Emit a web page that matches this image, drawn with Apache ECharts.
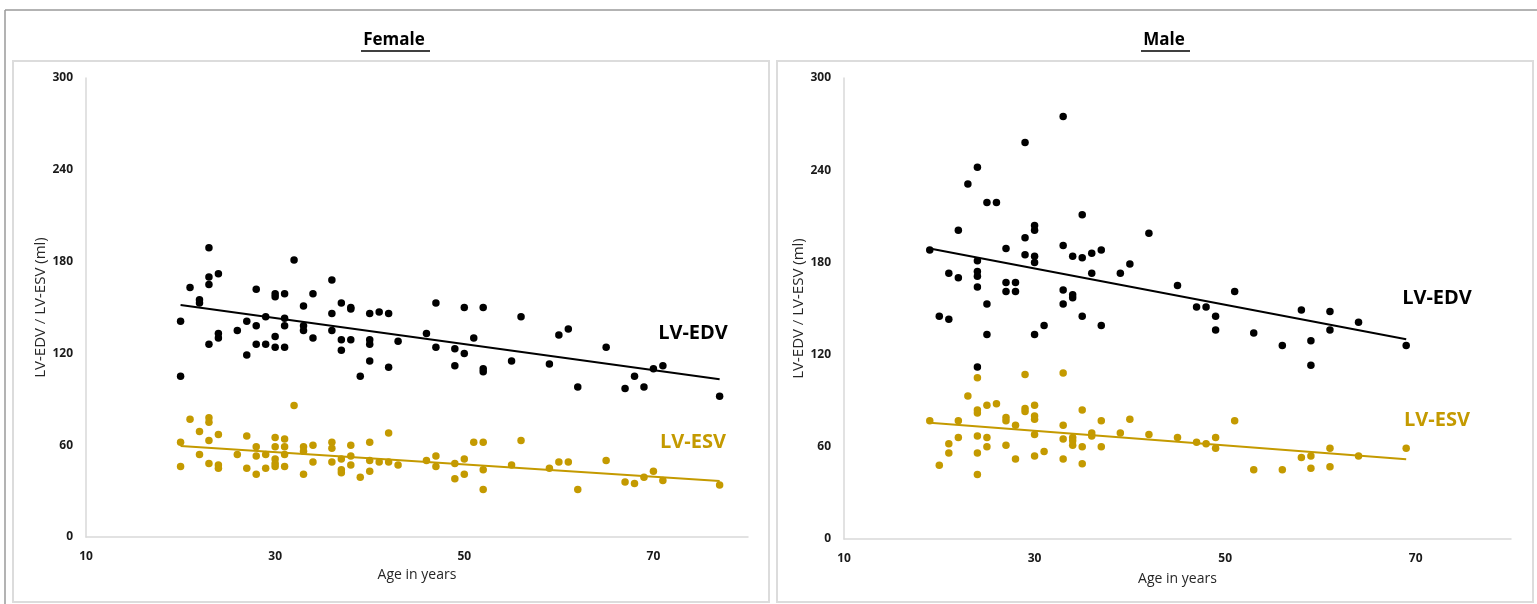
<!DOCTYPE html>
<html>
<head>
<meta charset="utf-8">
<script src="https://cdn.jsdelivr.net/npm/echarts@6/dist/echarts.min.js"></script>
<style>
  html, body { margin: 0; padding: 0; background: #fff; }
  #chart { width: 1537px; height: 604px; }
</style>
</head>
<body>
<div id="chart"></div>
<script>
// axis ticks
const ageTicks = [10, 30, 50, 70]
const volTicks = [0, 60, 120, 180, 240, 300]

// Female: [age, ml]
const femaleEdv = [[20,141],[20,105],[21,163],[22,155],[22,153],[23,189],[23,170],[23,165],[23,126],[24,172],[24,133],[24,130],[26,135],[27,141],[27,119],[28,162],[28,138],[28,126],[29,144],[29,126],[30,159],[30,157],[30,131],[30,124],[31,159],[31,143],[31,138],[31,124],[32,181],[33,151],[33,138],[33,135],[34,159],[34,130],[36,168],[36,146],[36,135],[37,153],[37,129],[37,122],[38,150],[38,149],[38,129],[39,105],[40,146],[40,129],[40,126],[40,115],[41,147],[42,146],[42,111],[43,128],[46,133],[47,153],[47,124],[49,123],[49,112],[50,150],[50,120],[51,130],[52,150],[52,110],[52,108],[55,115],[56,144],[59,113],[60,132],[61,136],[62,98],[65,124],[67,97],[68,105],[69,98],[70,110],[71,112],[77,92]]
const femaleEsv = [[20,62],[20,46],[21,77],[22,69],[22,54],[23,78],[23,75],[23,63],[23,48],[24,67],[24,47],[24,45],[26,54],[27,66],[27,45],[28,59],[28,53],[28,41],[29,54],[29,45],[30,65],[30,59],[30,51],[30,48],[30,46],[31,64],[31,59],[31,54],[31,46],[32,86],[33,59],[33,56],[33,41],[34,60],[34,49],[36,62],[36,58],[36,49],[37,51],[37,44],[37,42],[38,60],[38,53],[38,47],[39,39],[40,62],[40,50],[40,43],[41,49],[42,68],[42,49],[43,47],[46,50],[47,53],[47,46],[49,48],[49,38],[50,51],[50,41],[51,62],[52,62],[52,44],[52,31],[55,47],[56,63],[59,45],[60,49],[61,49],[62,31],[65,50],[67,36],[68,35],[69,39],[70,43],[71,37],[77,34]]
const femaleEdvTrend = [[20,151.6],[77,103.1]]
const femaleEsvTrend = [[20,59.5],[77,36.6]]

// Male: [age, ml]
const maleEdv = [[19,188],[20,145],[21,173],[21,143],[22,201],[22,170],[23,231],[24,242],[24,181],[24,174],[24,171],[24,164],[24,112],[25,219],[25,153],[25,133],[26,219],[27,189],[27,167],[27,161],[28,167],[28,161],[29,258],[29,196],[29,185],[30,204],[30,201],[30,184],[30,180],[30,133],[31,139],[33,275],[33,191],[33,162],[33,153],[34,184],[34,159],[34,157],[35,211],[35,183],[35,145],[36,186],[36,173],[37,188],[37,139],[39,173],[40,179],[42,199],[45,165],[47,151],[48,151],[49,145],[49,136],[51,161],[53,134],[56,126],[58,149],[59,129],[59,113],[61,148],[61,136],[64,141],[69,126]]
const maleEsv = [[19,77],[20,48],[21,62],[21,56],[22,77],[22,66],[23,93],[24,105],[24,84],[24,82],[24,67],[24,56],[24,42],[25,87],[25,66],[25,60],[26,88],[27,79],[27,77],[27,61],[28,74],[28,52],[29,107],[29,85],[29,83],[30,87],[30,80],[30,78],[30,68],[30,54],[31,57],[33,108],[33,74],[33,65],[33,52],[34,66],[34,64],[34,61],[35,84],[35,60],[35,49],[36,69],[36,67],[37,77],[37,60],[39,69],[40,78],[42,68],[45,66],[47,63],[48,62],[49,66],[49,59],[51,77],[53,45],[56,45],[58,53],[59,54],[59,46],[61,59],[61,47],[64,54],[69,59]]
const maleEdvTrend = [[19,189],[69,130]]
const maleEsvTrend = [[19,75.7],[69,51.9]]

const FONT = "'Open Sans', 'Liberation Sans', sans-serif"
const BLACK = '#000000'
const GOLD = '#c49a00'

let chart = echarts.init(document.getElementById('chart'), null, { renderer: 'canvas' })

function xAxisFor (gridIndex, gap) {
  return {
    gridIndex: gridIndex,
    type: 'value',
    min: ageTicks[0],
    max: 80,
    interval: ageTicks[1] - ageTicks[0],
    name: 'Age in years',
    nameLocation: 'middle',
    nameGap: gap,
    nameTextStyle: { color: '#262626', fontSize: 14, fontFamily: FONT },
    axisLine: { show: true, lineStyle: { color: '#d9d9d9', width: 1.5 } },
    axisTick: { show: false },
    splitLine: { show: false },
    axisLabel: {
      margin: 14,
      showMaxLabel: false,
      color: '#1a1a1a',
      fontSize: 12,
      fontWeight: 'bold',
      fontFamily: FONT
    }
  }
}

function yAxisFor (gridIndex, gap) {
  return {
    gridIndex: gridIndex,
    type: 'value',
    min: volTicks[0],
    max: volTicks[volTicks.length - 1],
    interval: volTicks[1] - volTicks[0],
    name: 'LV-EDV / LV-ESV (ml)',
    nameLocation: 'middle',
    nameGap: gap,
    nameRotate: 90,
    nameTextStyle: { color: '#262626', fontSize: 15, fontFamily: FONT },
    axisLine: { show: true, lineStyle: { color: '#d9d9d9', width: 1.5 } },
    axisTick: { show: false },
    splitLine: { show: false },
    axisLabel: {
      margin: 13,
      color: '#1a1a1a',
      fontSize: 12,
      fontWeight: 'bold',
      fontFamily: FONT
    }
  }
}

function dots (idx, data, color) {
  return {
    type: 'scatter',
    xAxisIndex: idx,
    yAxisIndex: idx,
    data: data,
    symbol: 'circle',
    symbolSize: 7.5,
    itemStyle: { color: color, opacity: 1 },
    z: 3
  }
}

function trend (idx, data, color) {
  return {
    type: 'line',
    xAxisIndex: idx,
    yAxisIndex: idx,
    data: data,
    showSymbol: false,
    silent: true,
    lineStyle: { color: color, width: 2 },
    z: 4
  }
}

function label (text, x, y, color) {
  return {
    type: 'text',
    x: x,
    y: y,
    style: {
      text: text,
      fill: color,
      font: 'bold 20px ' + FONT,
      align: 'center',
      verticalAlign: 'middle'
    }
  }
}

function title (text, x, underlineFrom, underlineTo) {
  return [
    {
      type: 'text',
      x: x,
      y: 40,
      style: {
        text: text,
        fill: '#000',
        font: 'bold 17px ' + FONT,
        align: 'center',
        verticalAlign: 'middle'
      }
    },
    {
      type: 'line',
      shape: { x1: underlineFrom, y1: 51, x2: underlineTo, y2: 51 },
      style: { stroke: '#000', lineWidth: 1.5 }
    }
  ]
}

chart.setOption({
  animation: false,
  grid: [
    { left: 86, top: 78, width: 662, height: 459 },
    { left: 844, top: 78, width: 667, height: 461 }
  ],
  xAxis: [xAxisFor(0, 31), xAxisFor(1, 33)],
  yAxis: [yAxisFor(0, 29), yAxisFor(1, 38)],
  series: [
    dots(0, femaleEdv, BLACK),
    dots(0, femaleEsv, GOLD),
    trend(0, femaleEdvTrend, BLACK),
    trend(0, femaleEsvTrend, GOLD),
    dots(1, maleEdv, BLACK),
    dots(1, maleEsv, GOLD),
    trend(1, maleEdvTrend, BLACK),
    trend(1, maleEsvTrend, GOLD)
  ],
  graphic: [
    // outer frame
    { type: 'line', shape: { x1: 5, y1: 10, x2: 1537, y2: 10 }, style: { stroke: '#9a9a9a', lineWidth: 1.5 } },
    { type: 'line', shape: { x1: 5, y1: 10, x2: 5, y2: 604 }, style: { stroke: '#9a9a9a', lineWidth: 1.5 } },
    // panel boxes
    { type: 'rect', shape: { x: 13, y: 61, width: 756, height: 541 }, style: { fill: 'none', stroke: '#dcdcdc', lineWidth: 2 } },
    { type: 'rect', shape: { x: 777, y: 61, width: 756, height: 541 }, style: { fill: 'none', stroke: '#dcdcdc', lineWidth: 2 } },
    ...title('Female', 394, 361, 430),
    ...title('Male', 1164, 1141, 1190),
    label('LV-EDV', 693, 333, BLACK),
    label('LV-ESV', 693, 442, GOLD),
    label('LV-EDV', 1437, 298, BLACK),
    label('LV-ESV', 1437, 420, GOLD)
  ]
})
</script>
</body>
</html>
